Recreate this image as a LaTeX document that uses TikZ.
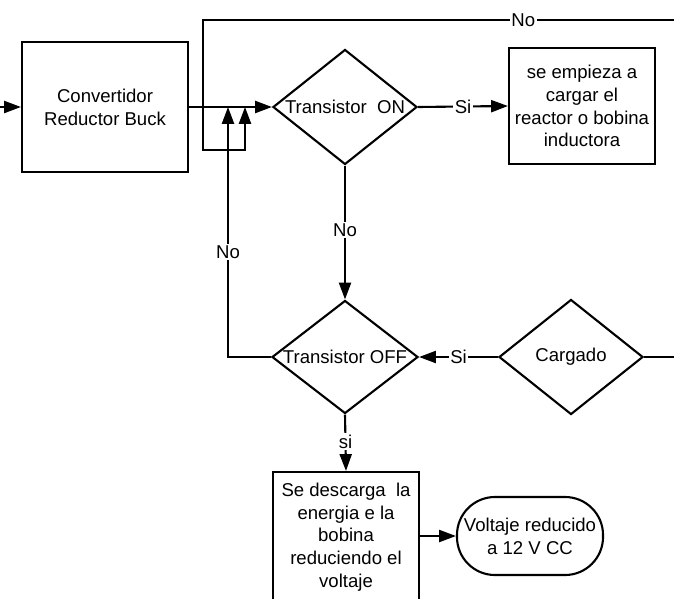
\documentclass[tikz,border=0pt]{standalone}
\usepackage{fontspec}
\setmainfont{Liberation Sans}
\usepackage{tikz}
\usetikzlibrary{arrows.meta,shapes.geometric,positioning}
\definecolor{flowBlack}{RGB}{0,0,0}

\begin{document}
\begin{tikzpicture}[x=0.025cm, y=-0.025cm,
  font=\fontsize{13.2}{16.2}\selectfont,
  line width=1.5pt,
  arr/.style={-{Triangle[length=0.42cm, width=0.3cm]}},
  procbox/.style={draw=flowBlack, rectangle, align=center, inner sep=0pt},
  decision/.style={draw=flowBlack, diamond, inner sep=0pt, minimum width=3.6cm, minimum height=2.875cm},
  lbl/.style={fill=white, inner sep=1pt}]
\useasboundingbox (0,0) rectangle (674,598);
\clip (0,0) rectangle (674,598);

% bloques
\node[procbox, minimum width=4.15cm, minimum height=3.25cm] (conv) at (105,107) {Convertidor\\Reductor Buck};
\node[decision] (on) at (345,107) {\makebox[0pt]{Transistor\ \ ON}};
\node[procbox, minimum width=3.65cm, minimum height=2.9cm] (carga) at (582,106) {se empieza a\\cargar el\\reactor o bobina\\inductora};
\node[decision, minimum width=3.65cm, minimum height=2.825cm] (off) at (345,357) {\makebox[0pt]{Transistor OFF}};
\node[decision] (cargado) at (571,357) {\makebox[0pt]{Cargado}};
\node[procbox, minimum width=3.65cm, minimum height=3.25cm] (desc) at (346,537) {Se descarga\ \ la\\energia e la\\bobina\\reduciendo el\\voltaje};
\node[procbox, rounded corners=0.95cm, minimum width=3.65cm, minimum height=1.95cm] (volt) at (530,536) {Voltaje reducido\\a 12 V CC};

% puntos auxiliares
\coordinate (entrada) at (0,107);
\coordinate (j1) at (228,107);
\coordinate (j2) at (245,107);
\coordinate (topR) at (674,20);
\coordinate (topL) at (203,20);
\coordinate (lazoB) at (203,150);
\coordinate (offL) at (228,357);
\coordinate (cargR) at (674,357);

% conectores
\draw[arr] (entrada) -- (conv.west);
\draw[arr] (conv.east) -- (on.west);
\draw[arr] (topR) -- node[lbl, pos=0.32] {No} (topL) -- (lazoB) -| (j2);
\draw[arr] (off.west) -- (offL) -- node[lbl, pos=0.42] {No} (j1);
\draw[arr] (on.east) -- node[lbl] {Si} (carga.west);
\draw[arr] (on.south) -- node[lbl, pos=0.48] {No} (off.north);
\draw[arr] (cargado.west) -- node[lbl] {Si} (off.east);
\draw (cargado.east) -- (cargR);
\draw[arr] (off.south) -- node[lbl, pos=0.48] {si} (desc.north);
\draw[arr] (desc.east |- volt.west) -- (volt.west);
\end{tikzpicture}
\end{document}
